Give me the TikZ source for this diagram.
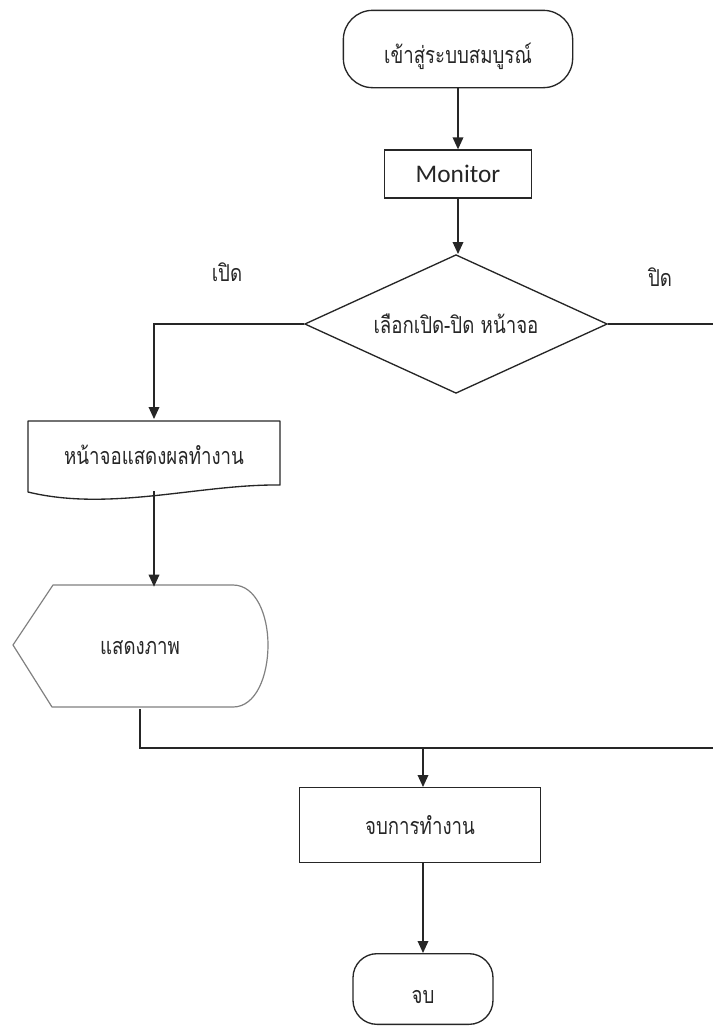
\documentclass[tikz,border=0pt]{standalone}
\usepackage{fontspec}
\setmainfont{Carlito}
\newfontfamily\thai[Script=Thai, FakeStretch=0.8]{Loma}
\usetikzlibrary{shapes.geometric, arrows.meta, positioning, calc}

\begin{document}
\begin{tikzpicture}[
         x=0.75pt, y=-0.75pt,
         >={Triangle[length=9pt,width=8pt]},
         line width=1pt,
         flow/.style={draw=black!85, ->},
         link/.style={draw=black!85},
         caption/.style={font=\thai\fontsize{17.5}{20}\selectfont, text=black!85},
         terminal/.style={caption, draw=black!85, rectangle, rounded corners=22pt, text height=22pt, text depth=0pt},
         process/.style={caption, draw=black!85, rectangle},
         decision/.style={caption, draw=black!85, diamond, aspect=2.2, inner sep=0pt},
         outline/.style={draw=black!85, line join=round}
      ]
         \useasboundingbox (0,0) rectangle (713,1026);

         % Nodes for the steps
         \node[terminal, minimum width=172pt, minimum height=58pt] (start) at (458,49) {เข้าสู่ระบบสมบูรณ์};
         \node[process, font=\fontsize{19}{22}\selectfont, minimum width=110pt, minimum height=36pt] (monitor) at (458,174) {Monitor};
         \node[decision, minimum width=227pt, minimum height=104pt] (choice) at (456,324) {เลือกเปิด-ปิด หน้าจอ};
         \node[caption, minimum width=189pt, minimum height=53pt] (screen) at (154,455) {หน้าจอแสดงผลทำงาน};
         \node[caption, minimum width=191pt, minimum height=91pt] (show) at (140,648) {แสดงภาพ};
         \node[process, minimum width=181pt, minimum height=56pt] (finish) at (420,825) {จบการทำงาน};
         \node[terminal, minimum width=105pt, minimum height=53pt, rounded corners=18pt] (stop) at (423,989) {จบ};

         % Branch labels
         \node[caption] (on) at (227,272) {เปิด};
         \node[caption] (off) at (660,277) {ปิด};

         % Outlines of the document and display symbols
         \path[outline] (28,421) -- (280,421) -- (280,485)
            .. controls (200,484) and (110,512) .. (28,492) -- cycle;
         \path[outline, draw=black!50, line width=0.9pt] (53,585) -- (233,585)
            .. controls (256,585) and (268,615) .. (268,645)
            .. controls (268,676) and (256,707) .. (233,707) -- (52,707) -- (13,645) -- cycle;

         % Free ends at the right edge and the joining point
         \coordinate (offright) at (713,324);
         \coordinate (backright) at (713,748);
         \coordinate (join) at (423,748);

         % Arrows between the steps
         \draw[flow] (start) -- (start |- monitor.north);
         \draw[flow] (monitor) -- (monitor |- choice.north);
         \draw[flow] (choice.west) -| (screen.north);
         \draw[link] (choice.east) -- (offright);
         \draw[flow] (screen.south) -- (screen.south |- show.north);
         \draw[link] (show.south) |- (backright);
         \draw[flow] (join) -- (join |- finish.north);
         \draw[flow] (stop |- finish.south) -- (stop.north);

      \end{tikzpicture}
\end{document}
